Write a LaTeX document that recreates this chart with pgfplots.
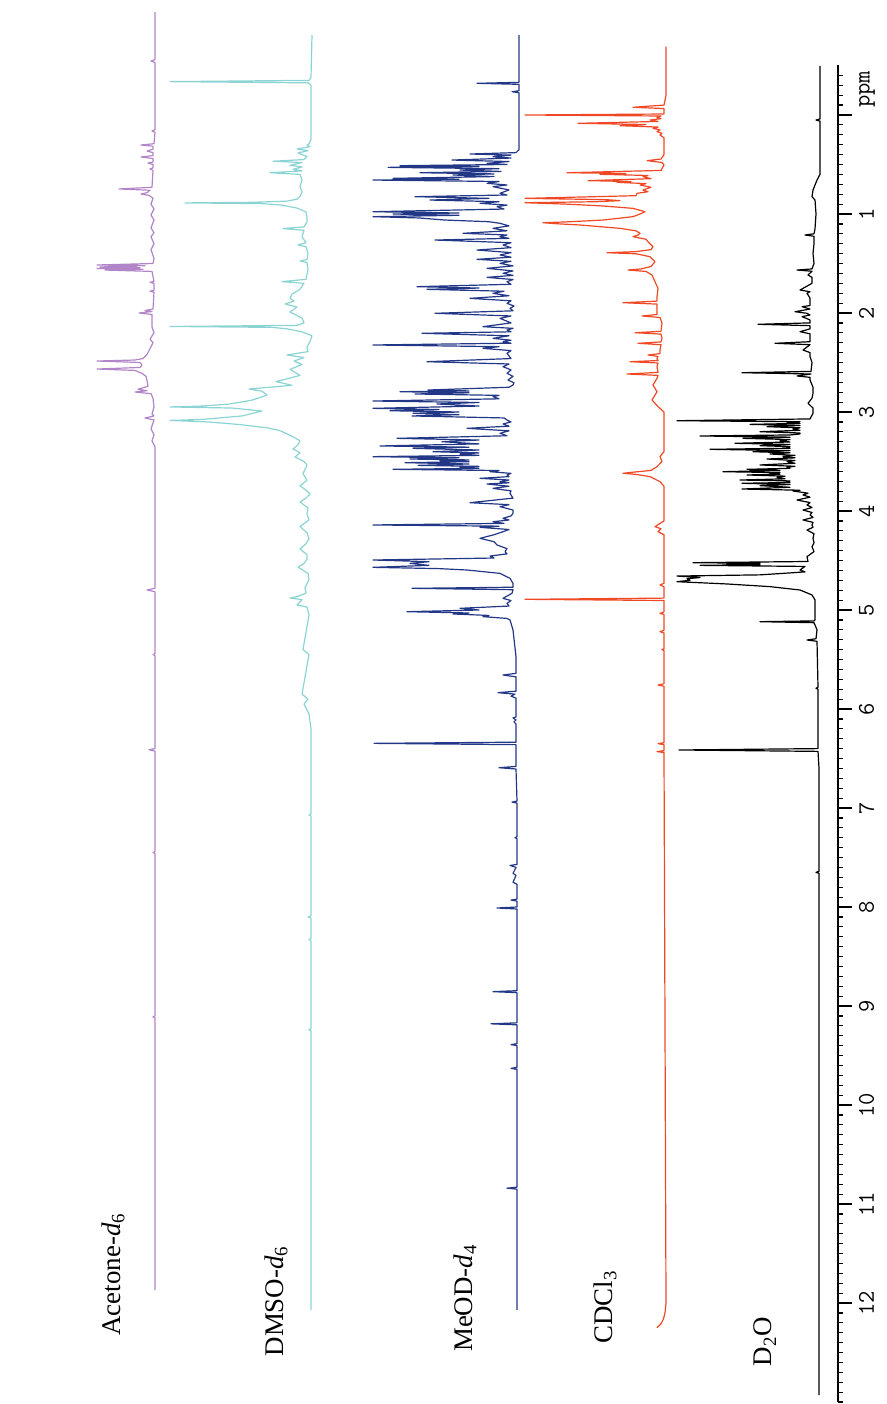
\documentclass[border=0pt]{standalone}
\usepackage{fontspec}
\setmainfont{Liberation Serif}
\usepackage{pgfplots}
\usepackage{pgfplotstable}
\pgfplotsset{compat=1.18}
\definecolor{acet}{RGB}{178,132,200}
\definecolor{dmso}{RGB}{140,212,212}
\definecolor{meod}{RGB}{35,55,135}
\definecolor{cdcl}{RGB}{240,72,36}

% Acetone-d6 (intensity h at chemical shift p)
\pgfplotstableread{
p h
-1.040 0
-0.560 0
-0.545 4
-0.530 0
0.150 0
0.162 3
0.175 0
0.290 1
0.303 14
0.315 2
0.345 2
0.364 8
0.380 2
0.410 2
0.424 14
0.440 2
0.475 2
0.485 7
0.500 2
0.535 2
0.545 5
0.560 2
0.730 3
0.747 36
0.760 5
0.785 8
0.798 14
0.812 6
0.840 2
0.900 4
0.950 1
1.010 4
1.060 1
1.140 4
1.190 1
1.230 4
1.300 1
1.360 4
1.450 1
1.500 2
1.515 58
1.522 10
1.535 55
1.542 15
1.550 58
1.558 12
1.566 50
1.580 3
1.680 1
1.690 5
1.700 1
1.770 1
1.780 5
1.790 1
1.960 2
1.975 10
1.985 3
2.000 16
2.015 3
2.141 3
2.200 1
2.263 5
2.300 2
2.360 5
2.420 8
2.460 12
2.475 20
2.485 58
2.500 15
2.525 13
2.550 15
2.566 58
2.580 20
2.610 13
2.640 9
2.680 8
2.740 7
2.770 17
2.785 8
2.798 20
2.815 4
2.860 2
2.950 1
3.020 3
3.040 1
3.061 10
3.080 1
3.170 4
3.230 1
3.290 3
3.350 0
4.780 0
4.798 8
4.815 0
5.440 0
5.450 2
5.460 0
6.400 0
6.412 6
6.425 0
7.440 0
7.450 2
7.460 0
9.100 0
9.110 2
9.120 0
11.870 0
}\tAcet

% DMSO-d6
\pgfplotstableread{
p h
-0.808 0
-0.380 1
-0.350 3
-0.337 142
-0.325 4
-0.300 1
0.250 1
0.290 3
0.303 5
0.320 2
0.343 15
0.360 4
0.384 14
0.420 5
0.450 8
0.467 39
0.480 10
0.508 22
0.525 10
0.549 19
0.565 10
0.583 42
0.600 12
0.660 10
0.720 12
0.780 10
0.820 12
0.850 15
0.870 25
0.882 60
0.888 127
0.895 50
0.910 30
0.940 15
0.980 6
1.030 5
1.080 5
1.130 8
1.147 29
1.165 8
1.230 10
1.290 6
1.312 14
1.330 6
1.400 4
1.460 5
1.475 12
1.490 5
1.560 4
1.660 6
1.683 30
1.700 8
1.760 12
1.810 20
1.850 22
1.880 18
1.909 27
1.940 15
1.990 22
2.050 10
2.100 8
2.125 15
2.136 142
2.145 40
2.160 25
2.190 10
2.230 0
2.290 2
2.343 5
2.390 4
2.424 25
2.450 8
2.485 18
2.520 10
2.570 22
2.630 12
2.693 36
2.730 20
2.768 63
2.790 50
2.830 45
2.880 60
2.920 83
2.940 110
2.949 142
2.960 80
2.990 50
3.040 70
3.075 110
3.085 142
3.100 105
3.126 73
3.160 45
3.188 32
3.250 19
3.291 12
3.330 14
3.374 19
3.410 12
3.455 17
3.500 8
3.535 5
3.580 7
3.621 9
3.690 5
3.745 12
3.790 6
3.828 2
3.870 6
3.909 12
3.970 4
4.030 5
4.090 3
4.157 12
4.220 5
4.280 3
4.330 6
4.384 12
4.440 5
4.485 5
4.530 8
4.566 14
4.630 4
4.693 3
4.775 7
4.830 6
4.865 15
4.879 22
4.895 10
4.950 15
4.970 5
5.050 3
5.400 9
5.450 3
5.850 10
5.900 4
5.950 8
6.050 3
6.200 1
7.060 1
7.070 3
7.080 1
8.090 1
8.100 4
8.110 1
8.320 1
8.330 3
8.340 1
9.230 1
9.240 3
9.250 1
12.070 1
}\tDmso

% MeOD-d4
\pgfplotstableread{
p h
-0.808 0
-0.330 0
-0.320 42
-0.310 0
-0.245 0
-0.235 7
-0.225 0
0.350 0
0.380 3
0.394 49
0.405 8
0.421 26
0.435 8
0.455 67
0.470 10
0.488 32
0.500 12
0.512 119
0.520 40
0.529 131
0.542 20
0.556 59
0.570 18
0.583 99
0.595 25
0.606 66
0.622 25
0.640 126
0.648 60
0.657 146
0.672 20
0.690 32
0.707 12
0.724 26
0.757 10
0.791 19
0.808 12
0.825 104
0.842 30
0.859 89
0.876 20
0.892 39
0.910 12
0.926 22
0.950 15
0.977 146
0.990 60
1.000 126
1.013 60
1.027 146
1.040 100
1.061 74
1.078 30
1.094 19
1.120 10
1.145 26
1.170 12
1.195 56
1.212 12
1.229 19
1.246 10
1.263 84
1.290 8
1.313 16
1.340 8
1.364 42
1.390 8
1.414 19
1.436 8
1.458 42
1.478 8
1.498 19
1.524 6
1.549 32
1.575 6
1.599 16
1.620 6
1.640 32
1.662 6
1.684 12
1.710 8
1.734 102
1.748 40
1.761 92
1.780 15
1.801 26
1.826 10
1.852 49
1.877 8
1.902 12
1.930 5
1.953 9
1.978 6
2.003 84
2.030 8
2.054 19
2.100 8
2.138 36
2.155 6
2.172 12
2.190 8
2.205 97
2.230 10
2.256 26
2.275 8
2.290 16
2.305 8
2.323 146
2.340 20
2.357 36
2.380 8
2.407 12
2.460 8
2.492 92
2.515 10
2.542 16
2.575 8
2.609 12
2.640 6
2.677 11
2.705 5
2.727 6
2.750 10
2.778 91
2.787 50
2.795 119
2.806 50
2.818 104
2.832 20
2.845 26
2.867 20
2.889 146
2.904 40
2.919 82
2.940 40
2.963 146
2.975 80
2.987 129
3.000 60
3.013 106
3.027 60
3.040 107
3.060 15
3.081 12
3.100 8
3.121 16
3.143 10
3.165 52
3.190 10
3.215 19
3.240 12
3.266 122
3.283 40
3.300 77
3.322 40
3.343 139
3.355 50
3.367 106
3.384 40
3.401 86
3.413 40
3.424 59
3.438 40
3.451 146
3.463 60
3.475 109
3.484 50
3.492 79
3.502 50
3.512 114
3.525 50
3.539 101
3.549 40
3.559 59
3.569 40
3.579 126
3.591 20
3.603 29
3.620 8
3.636 12
3.653 10
3.670 39
3.687 10
3.704 19
3.715 10
3.727 32
3.750 10
3.771 26
3.797 8
3.822 9
3.870 6
3.916 49
3.936 10
3.956 19
3.990 6
4.024 6
4.050 8
4.074 16
4.091 10
4.108 26
4.125 15
4.141 146
4.153 20
4.165 39
4.187 10
4.209 16
4.240 25
4.276 39
4.310 25
4.343 22
4.380 12
4.411 14
4.433 12
4.455 29
4.475 25
4.495 146
4.512 90
4.529 109
4.549 90
4.569 146
4.582 80
4.596 52
4.630 19
4.680 9
4.731 6
4.770 6
4.781 107
4.795 6
4.831 7
4.882 16
4.905 8
4.933 12
4.960 10
4.983 59
5.000 40
5.017 112
5.030 50
5.040 66
5.055 30
5.067 36
5.085 12
5.101 9
5.202 6
5.471 3
5.640 3
5.657 16
5.675 3
5.820 3
5.835 21
5.850 4
5.870 8
5.890 3
6.080 3
6.090 6
6.110 3
6.130 5
6.150 3
6.335 3
6.347 145
6.360 3
6.580 3
6.593 20
6.606 3
6.930 2
6.940 7
6.950 2
7.290 2
7.300 4
7.310 2
7.570 2
7.580 9
7.600 3
7.660 6
7.680 3
7.750 6
7.770 2
7.920 2
7.930 8
7.940 2
8.000 2
8.010 22
8.020 2
8.845 2
8.855 26
8.865 2
9.170 2
9.180 28
9.190 2
9.380 2
9.390 8
9.400 2
9.620 2
9.630 8
9.640 2
10.830 2
10.840 12
10.850 2
12.070 2
}\tMeod

% CDCl3
\pgfplotstableread{
p h
-0.690 0
-0.200 0
-0.100 2
-0.078 33
-0.065 2
-0.010 2
0.000 141
0.010 5
0.024 9
0.037 5
0.051 16
0.065 8
0.084 88
0.096 20
0.108 46
0.122 8
0.135 13
0.150 6
0.168 9
0.185 4
0.202 6
0.230 2
0.400 2
0.445 5
0.461 19
0.480 4
0.505 2
0.560 5
0.583 99
0.591 40
0.599 66
0.611 18
0.623 23
0.643 15
0.663 78
0.672 35
0.680 49
0.693 20
0.707 26
0.730 15
0.758 23
0.775 18
0.791 29
0.815 30
0.842 141
0.855 60
0.865 46
0.876 70
0.886 141
0.900 100
0.919 63
0.943 33
0.977 21
1.000 26
1.027 33
1.061 63
1.080 100
1.088 123
1.098 110
1.111 86
1.145 46
1.170 30
1.195 26
1.212 28
1.229 33
1.255 20
1.280 18
1.330 13
1.360 15
1.380 30
1.391 59
1.402 30
1.431 16
1.482 11
1.530 15
1.555 25
1.566 38
1.580 20
1.616 14
1.684 11
1.751 8
1.835 9
1.880 9
1.896 43
1.910 9
1.953 9
2.015 9
2.030 24
2.045 6
2.104 4
2.185 5
2.199 31
2.213 5
2.256 4
2.292 5
2.306 28
2.320 5
2.374 6
2.410 6
2.424 18
2.438 8
2.458 9
2.480 8
2.492 36
2.505 8
2.542 9
2.600 8
2.616 39
2.630 8
2.660 9
2.727 13
2.795 9
2.879 14
2.946 8
3.000 2
3.400 2
3.451 6
3.500 4
3.552 9
3.590 15
3.610 35
3.619 43
3.630 30
3.653 16
3.704 6
3.750 2
4.100 2
4.158 11
4.180 5
4.209 8
4.240 2
4.730 2
4.747 6
4.765 2
4.880 2
4.892 141
4.904 2
5.020 2
5.034 6
5.045 2
5.205 2
5.219 6
5.232 2
5.390 2
5.400 4
5.410 2
5.745 2
5.758 8
5.770 2
6.340 2
6.350 8
6.360 2
6.420 2
6.430 9
6.440 2
12.000 0
12.100 1
12.160 2.5
12.210 5
12.250 9
}\tCdcl

% D2O
\pgfplotstableread{
p h
-0.495 0
0.040 0
0.051 4
0.062 0
0.600 0
0.657 3
0.758 7
0.825 8
0.859 5
1.000 4
1.150 5
1.200 6
1.212 15
1.225 6
1.300 6
1.400 7
1.500 6
1.555 8
1.566 23
1.578 8
1.616 12
1.640 8
1.700 8
1.768 20
1.785 10
1.801 13
1.850 10
1.925 10
1.936 18
1.960 10
1.987 25
2.003 13
2.020 10
2.037 18
2.070 10
2.100 10
2.114 62
2.128 10
2.160 10
2.189 20
2.210 10
2.290 10
2.306 45
2.320 10
2.374 17
2.400 10
2.441 10
2.500 8
2.590 9
2.603 78
2.616 9
2.636 23
2.650 10
2.677 10
2.750 7
2.811 7
2.860 8
2.912 12
2.960 7
3.013 7
3.070 10
3.088 143
3.098 20
3.108 33
3.115 20
3.125 70
3.136 20
3.148 53
3.160 20
3.172 27
3.185 20
3.199 60
3.212 20
3.222 20
3.232 30
3.242 120
3.254 30
3.266 77
3.278 30
3.290 40
3.303 30
3.316 85
3.328 30
3.340 60
3.350 30
3.357 33
3.366 30
3.377 110
3.390 30
3.401 67
3.412 30
3.424 50
3.438 25
3.451 37
3.463 25
3.475 53
3.490 25
3.502 33
3.518 25
3.535 60
3.548 25
3.559 33
3.569 30
3.579 73
3.590 40
3.603 97
3.612 40
3.620 50
3.628 40
3.636 73
3.648 35
3.660 43
3.675 35
3.687 80
3.696 30
3.704 33
3.712 30
3.720 78
3.732 30
3.744 60
3.760 30
3.778 78
3.790 20
3.798 27
3.820 12
3.838 17
3.860 10
3.889 23
3.915 10
3.939 13
3.965 8
3.990 17
4.015 8
4.040 10
4.065 7
4.091 17
4.115 7
4.141 8
4.165 7
4.192 13
4.230 6
4.276 7
4.320 6
4.361 8
4.410 6
4.461 13
4.510 12
4.522 127
4.528 60
4.535 93
4.542 60
4.549 120
4.560 15
4.596 20
4.615 15
4.630 37
4.645 60
4.657 143
4.672 120
4.684 133
4.700 130
4.714 143
4.737 93
4.764 50
4.798 20
4.848 8
4.899 5
5.000 5
5.100 5
5.110 6
5.118 60
5.128 6
5.200 3
5.290 4
5.303 13
5.316 3
5.780 2
5.790 4
5.800 2
6.400 2
6.414 141
6.428 2
6.600 1
7.640 1
7.650 4
7.660 1
12.930 1
}\tDdo

\begin{document}
\begin{tikzpicture}
\begin{axis}[
  scale only axis, width=419bp, height=668.25bp,
  xmin=0, xmax=838, ymin=-0.5, ymax=13, y dir=reverse,
  hide x axis, axis y line*=right, clip=false,
  axis line style={line width=0.6bp, black},
  ytick={1,2,3,4,5,6,7,8,9,10,11,12},
  yticklabels={1,2,3,4,5,6,7,8,9,10,11,12},
  minor ytick={-0.4,-0.3,...,12.95},
  extra y ticks={0}, extra y tick labels={ppm},
  extra y tick style={yticklabel style={anchor=north west}},
  tick align=outside, major tick length=7bp, minor tick length=2.5bp,
  tick style={line width=0.6bp, black},
  yticklabel style={rotate=90, anchor=north, font=\fontsize{12}{12}\selectfont\ttfamily},
  every axis plot/.append style={line width=0.6bp, line join=round},
]
\addplot[acet] table[x expr=155-\thisrow{h}, y=p]{\tAcet};
\addplot[dmso] table[x expr=312-\thisrow{h}, y=p]{\tDmso};
\addplot[meod] table[x expr=519-\thisrow{h}, y=p]{\tMeod};
\addplot[cdcl] table[x expr=666-\thisrow{h}, y=p]{\tCdcl};
\addplot[black] table[x expr=820-\thisrow{h}, y=p]{\tDdo};

\node[rotate=90, font=\fontsize{13.5}{14}\selectfont] at (axis cs:113,11.71) {Acetone-\textit{d}\textsubscript{6}};
\node[rotate=90, font=\fontsize{13.5}{14}\selectfont] at (axis cs:276,11.98) {DMSO-\textit{d}\textsubscript{6}};
\node[rotate=90, font=\fontsize{13.5}{14}\selectfont] at (axis cs:465,11.95) {MeOD-\textit{d}\textsubscript{4}};
\node[rotate=90, font=\fontsize{13.5}{14}\selectfont] at (axis cs:605,12.04) {CDCl\textsubscript{3}};
\node[rotate=90, font=\fontsize{13.5}{14}\selectfont] at (axis cs:765,12.39) {D\textsubscript{2}O};

\coordinate (bbA) at (axis cs:0,-1.1616);
\coordinate (bbB) at (axis cs:887,13.0202);
\end{axis}
\pgfresetboundingbox
\path[use as bounding box] (bbA) rectangle (bbB);
\end{tikzpicture}
\end{document}
